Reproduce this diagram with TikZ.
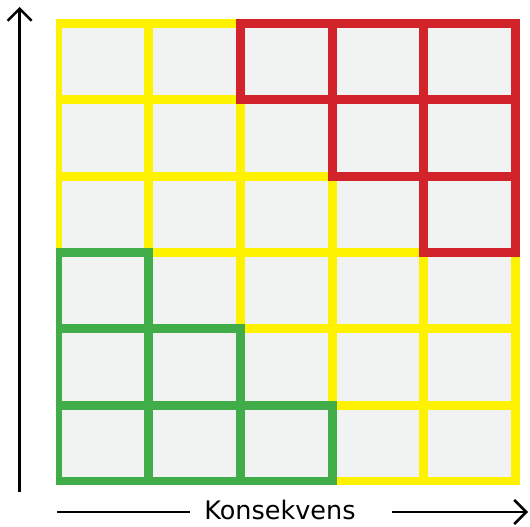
\documentclass[tikz,border=0pt]{standalone}
\usepackage{fontspec}
\setmainfont{DejaVu Sans}
\usetikzlibrary{arrows.meta}
\definecolor{cellgray}{HTML}{F1F2F2}
\definecolor{riskyellow}{HTML}{FFF200}
\definecolor{riskred}{HTML}{D2232A}
\definecolor{riskgreen}{HTML}{41AD49}

\begin{document}
\begin{tikzpicture}[
x=1pt, y=-1pt,
cellline/.style={line width=9pt, line cap=rect},
axisline/.style={line width=2.5pt},
axisarrow/.style={line width=2.5pt, -{Straight Barb[length=12pt,width=24pt]}}
]
\useasboundingbox (0,0) rectangle (530,527);
\def\colw{91.6}\def\rowh{76.3}\def\xo{57.2}\def\yo{23.5}

% Grid
\begin{scope}
\clip (56,19) rectangle (521,484);
\fill[cellgray] (\xo,\yo) rectangle (\xo+5*\colw,\yo+6*\rowh);
\foreach \i in {0,...,5}
  \draw[cellline, riskyellow] (\xo+\i*\colw,\yo) -- (\xo+\i*\colw,\yo+6*\rowh);
\foreach \j in {0,...,6}
  \draw[cellline, riskyellow] (\xo,\yo+\j*\rowh) -- (\xo+5*\colw,\yo+\j*\rowh);
% Low risk cells
\foreach \c/\r in {0/3,0/4,1/4,0/5,1/5,2/5}
  \draw[cellline, riskgreen] (\xo+\c*\colw,\yo+\r*\rowh) rectangle ++(\colw,\rowh);
% High risk cells
\foreach \c/\r in {2/0,3/0,4/0,3/1,4/1,4/2}
  \draw[cellline, riskred] (\xo+\c*\colw,\yo+\r*\rowh) rectangle ++(\colw,\rowh);
\end{scope}

% Axes
\coordinate (ybottom) at (19.7,492);
\coordinate (ytop) at (19.7,7);
\coordinate (xleft) at (57,512);
\coordinate (xgap) at (190,512);
\coordinate (xresume) at (392,512);
\coordinate (xright) at (528,512);

\node[anchor=base, inner sep=0pt, font=\fontsize{25.5}{30}\selectfont] (xlabel) at (280,519) {Konsekvens};

\draw[axisarrow] (ybottom) -- (ytop);
\draw[axisline] (xleft) -- (xgap);
\draw[axisarrow] (xresume) -- (xright);

\end{tikzpicture}
\end{document}
